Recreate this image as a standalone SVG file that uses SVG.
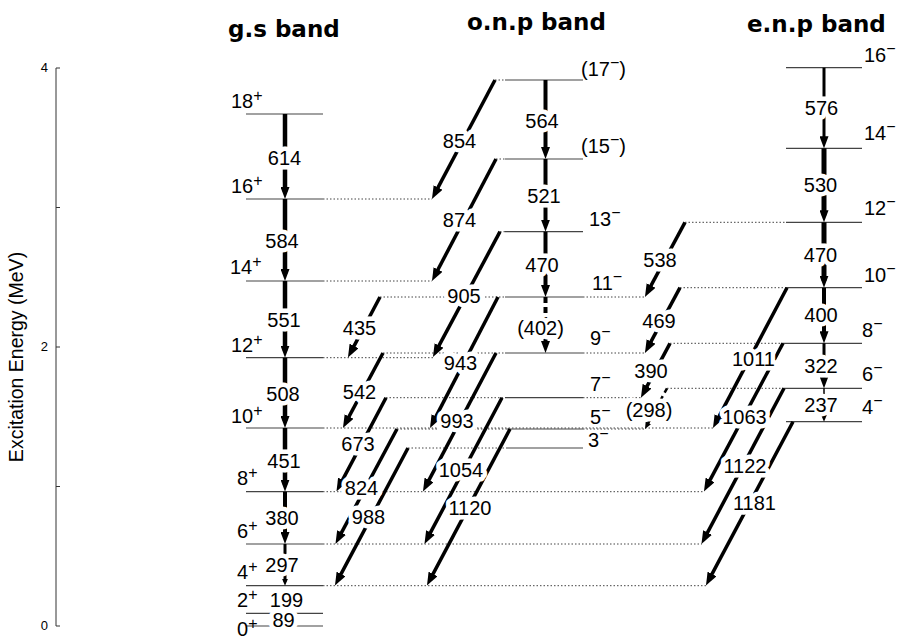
<svg xmlns="http://www.w3.org/2000/svg" width="918" height="640" viewBox="0 0 918 640">
<defs>
<style>
.lv{stroke:#444;stroke-width:1.2;fill:none}
.dt{stroke:#444;stroke-width:1;stroke-dasharray:1.5 2;fill:none}
.ax{stroke:#333;stroke-width:1;fill:none}
.ar{stroke:#000;fill:none;stroke-linecap:butt}
.d{stroke-width:3.5;marker-end:url(#ah)}
.g{font-family:"Liberation Sans",Arial,sans-serif;font-size:20px;fill:#000;stroke:#fff;stroke-width:9;stroke-linejoin:round;paint-order:stroke;text-anchor:middle}
.s{font-family:"Liberation Sans",Arial,sans-serif;font-size:20px;fill:#000}
.t{font-family:"DejaVu Sans",sans-serif;font-weight:bold;font-size:23px;fill:#000}
.tk{font-family:"Liberation Sans",Arial,sans-serif;font-size:13px;fill:#000;text-anchor:end}
</style>
<marker id="ah" viewBox="0 -5 13 10" refX="5" refY="0" markerWidth="13" markerHeight="10" markerUnits="userSpaceOnUse" orient="auto"><path d="M0,-5L13,0L0,5z" fill="#000"/></marker>
<marker id="av" viewBox="0 -4.5 12 9" refX="5" refY="0" markerWidth="12" markerHeight="9" markerUnits="userSpaceOnUse" orient="auto"><path d="M0,-4.5L12,0L0,4.5z" fill="#000"/></marker>
<marker id="as" viewBox="0 -3 7 6" refX="3" refY="0" markerWidth="7" markerHeight="6" markerUnits="userSpaceOnUse" orient="auto"><path d="M0,-3L7,0L0,3z" fill="#000"/></marker>
</defs>
<rect width="918" height="640" fill="#fff"/>

<g id="axis">
<line class="ax" x1="56" y1="68" x2="56" y2="626"/>
<path class="ax" d="M56,68h4M56,207.5h4M56,347h4M56,486.5h4M56,626h4"/>
<text class="tk" x="48" y="72">4</text>
<text class="tk" x="48" y="351">2</text>
<text class="tk" x="48" y="630">0</text>
<text class="s" text-anchor="middle" transform="translate(23,357) rotate(-90)" style="font-size:19.5px">Excitation Energy (MeV)</text>
</g>

<g id="titles">
<text class="t" x="228" y="37">g.s band</text>
<text class="t" x="467" y="30">o.n.p band</text>
<text class="t" x="747" y="32">e.n.p band</text>
</g>

<g id="gs-band">
<g id="gs18"><line class="lv" x1="246" y1="114" x2="323" y2="114"/><text class="s" x="231" y="107.7">18<tspan dy="-7" font-size="16">+</tspan></text></g>
<g id="gs16"><line class="lv" x1="246" y1="199" x2="323" y2="199"/><line class="dt" x1="323" y1="199" x2="432" y2="199"/><text class="s" x="231" y="192.7">16<tspan dy="-7" font-size="16">+</tspan></text></g>
<g id="gs14"><line class="lv" x1="246" y1="281" x2="323" y2="281"/><line class="dt" x1="323" y1="281" x2="432" y2="281"/><text class="s" x="230" y="274">14<tspan dy="-7" font-size="16">+</tspan></text></g>
<g id="gs12"><line class="lv" x1="246" y1="357.7" x2="323" y2="357.7"/><line class="dt" x1="323" y1="357.7" x2="433" y2="357.7"/><text class="s" x="231" y="351.7">12<tspan dy="-7" font-size="16">+</tspan></text></g>
<g id="gs10"><line class="lv" x1="246" y1="428" x2="323" y2="428"/><line class="dt" x1="323" y1="428" x2="713" y2="428"/><text class="s" x="231" y="422.7">10<tspan dy="-7" font-size="16">+</tspan></text></g>
<g id="gs8"><line class="lv" x1="246" y1="491.7" x2="323" y2="491.7"/><line class="dt" x1="323" y1="491.7" x2="704" y2="491.7"/><text class="s" x="237" y="485">8<tspan dy="-7" font-size="16">+</tspan></text></g>
<g id="gs6"><line class="lv" x1="246" y1="544" x2="323" y2="544"/><line class="dt" x1="323" y1="544" x2="702" y2="544"/><text class="s" x="237" y="538.3">6<tspan dy="-7" font-size="16">+</tspan></text></g>
<g id="gs4"><line class="lv" x1="246" y1="585.7" x2="323" y2="585.7"/><line class="dt" x1="323" y1="585.7" x2="706" y2="585.7"/><text class="s" x="237" y="579.3">4<tspan dy="-7" font-size="16">+</tspan></text></g>
<g id="gs2"><line class="lv" x1="246" y1="613.3" x2="323" y2="613.3"/><text class="s" x="237" y="606.7">2<tspan dy="-7" font-size="16">+</tspan></text></g>
<g id="gs0"><line class="lv" x1="246" y1="626" x2="323" y2="626"/><text class="s" x="237" y="636">0<tspan dy="-7" font-size="16">+</tspan></text></g>
</g>

<g id="onp-band">
<g id="onp17"><line class="dt" x1="495" y1="80" x2="505" y2="80"/><line class="lv" x1="505" y1="80" x2="583" y2="80"/><text class="s" x="581" y="76">(17<tspan dy="-8" font-size="16">−</tspan><tspan dy="8">)</tspan></text></g>
<g id="onp15"><line class="dt" x1="496" y1="159" x2="505" y2="159"/><line class="lv" x1="505" y1="159" x2="583" y2="159"/><text class="s" x="581" y="153.3">(15<tspan dy="-8" font-size="16">−</tspan><tspan dy="8">)</tspan></text></g>
<g id="onp13"><line class="dt" x1="500" y1="231.7" x2="505" y2="231.7"/><line class="lv" x1="505" y1="231.7" x2="583" y2="231.7"/><text class="s" x="589" y="225.7">13<tspan dy="-8" font-size="16">−</tspan></text></g>
<g id="onp11"><line class="dt" x1="380" y1="297" x2="505" y2="297"/><line class="lv" x1="505" y1="297" x2="583" y2="297"/><line class="dt" x1="583" y1="297" x2="645" y2="297"/><text class="s" x="592" y="290">11<tspan dy="-8" font-size="16">−</tspan></text></g>
<g id="onp9"><line class="dt" x1="383" y1="353" x2="505" y2="353"/><line class="lv" x1="505" y1="353" x2="583" y2="353"/><line class="dt" x1="583" y1="353" x2="645" y2="353"/><text class="s" x="590" y="345">9<tspan dy="-8" font-size="16">−</tspan></text></g>
<g id="onp7"><line class="dt" x1="386" y1="397.7" x2="505" y2="397.7"/><line class="lv" x1="505" y1="397.7" x2="583" y2="397.7"/><line class="dt" x1="583" y1="397.7" x2="641" y2="397.7"/><text class="s" x="590" y="391">7<tspan dy="-8" font-size="16">−</tspan></text></g>
<g id="onp5"><line class="dt" x1="397" y1="429" x2="507" y2="429"/><line class="lv" x1="507" y1="429" x2="583" y2="429"/><line class="dt" x1="583" y1="429" x2="645" y2="429"/><text class="s" x="590" y="424">5<tspan dy="-8" font-size="16">−</tspan></text></g>
<g id="onp3"><line class="dt" x1="408" y1="448" x2="507" y2="448"/><line class="lv" x1="507" y1="448" x2="583" y2="448"/><text class="s" x="588" y="447.3">3<tspan dy="-8" font-size="16">−</tspan></text></g>
</g>

<g id="enp-band">
<g id="enp16"><line class="lv" x1="786" y1="67.7" x2="862" y2="67.7"/><text class="s" x="864" y="61.7">16<tspan dy="-8" font-size="16">−</tspan></text></g>
<g id="enp14"><line class="lv" x1="786" y1="148.3" x2="862" y2="148.3"/><text class="s" x="864" y="140">14<tspan dy="-8" font-size="16">−</tspan></text></g>
<g id="enp12"><line class="dt" x1="685" y1="222.3" x2="786" y2="222.3"/><line class="lv" x1="786" y1="222.3" x2="862" y2="222.3"/><text class="s" x="864" y="215">12<tspan dy="-8" font-size="16">−</tspan></text></g>
<g id="enp10"><line class="dt" x1="680" y1="287.7" x2="786" y2="287.7"/><line class="lv" x1="786" y1="287.7" x2="862" y2="287.7"/><text class="s" x="864" y="281.7">10<tspan dy="-8" font-size="16">−</tspan></text></g>
<g id="enp8"><line class="dt" x1="670" y1="343.3" x2="783" y2="343.3"/><line class="lv" x1="783" y1="343.3" x2="862" y2="343.3"/><text class="s" x="862" y="336.7">8<tspan dy="-8" font-size="16">−</tspan></text></g>
<g id="enp6"><line class="dt" x1="667" y1="388.3" x2="784" y2="388.3"/><line class="lv" x1="784" y1="388.3" x2="862" y2="388.3"/><text class="s" x="862" y="380.7">6<tspan dy="-8" font-size="16">−</tspan></text></g>
<g id="enp4"><line class="lv" x1="786" y1="421.7" x2="862" y2="421.7"/><text class="s" x="862" y="414">4<tspan dy="-8" font-size="16">−</tspan></text></g>
</g>

<g id="connectors">
<line class="ar" x1="285" y1="114" x2="285" y2="192" stroke-width="4.5" marker-end="url(#av)"/>
<line class="ar" x1="285" y1="199" x2="285" y2="274" stroke-width="4.5" marker-end="url(#av)"/>
<line class="ar" x1="285" y1="281" x2="285" y2="350.7" stroke-width="4.5" marker-end="url(#av)"/>
<line class="ar" x1="285" y1="357.7" x2="285" y2="421" stroke-width="4.5" marker-end="url(#av)"/>
<line class="ar" x1="285" y1="428" x2="285" y2="484.7" stroke-width="4.5" marker-end="url(#av)"/>
<line class="ar" x1="285" y1="491.7" x2="285" y2="537" stroke-width="4" marker-end="url(#av)"/>
<line class="ar" x1="285" y1="544" x2="285" y2="581.7" stroke-width="3" marker-end="url(#as)"/>
<line class="ar" x1="545.5" y1="80" x2="545.5" y2="152" stroke-width="4" marker-end="url(#av)"/>
<line class="ar" x1="545.5" y1="159" x2="545.5" y2="224.7" stroke-width="4" marker-end="url(#av)"/>
<line class="ar" x1="545.5" y1="231.7" x2="545.5" y2="290" stroke-width="4" marker-end="url(#av)"/>
<line class="ar" x1="545.5" y1="297" x2="545.5" y2="346" stroke-width="4" stroke-dasharray="6 4" marker-end="url(#av)"/>
<line class="ar" x1="824" y1="67.7" x2="824" y2="141.3" stroke-width="3" marker-end="url(#av)"/>
<line class="ar" x1="824" y1="148.3" x2="824" y2="215.3" stroke-width="5" marker-end="url(#av)"/>
<line class="ar" x1="824" y1="222.3" x2="824" y2="280.7" stroke-width="5" marker-end="url(#av)"/>
<line class="ar" x1="824" y1="287.7" x2="824" y2="336.3" stroke-width="4" marker-end="url(#av)"/>
<line class="ar" x1="824" y1="343.3" x2="824" y2="381.3" stroke-width="3" marker-end="url(#av)"/>
<line class="ar" x1="824" y1="388.3" x2="824" y2="417.7" stroke-width="1.5" marker-end="url(#as)"/>
<line class="ar d" x1="495" y1="80" x2="435.7" y2="191.9"/>
<line class="ar d" x1="496" y1="159" x2="435.7" y2="273.9"/>
<line class="ar d" x1="500" y1="231.7" x2="436.7" y2="349.9"/>
<line class="ar d" x1="498" y1="297" x2="433.7" y2="420.9"/>
<line class="ar d" x1="496" y1="353" x2="426.7" y2="484.4"/>
<line class="ar d" x1="502" y1="397.7" x2="428.2" y2="536.9"/>
<line class="ar d" x1="510" y1="429" x2="430.7" y2="578.4"/>
<line class="ar d" x1="380" y1="297" x2="351.7" y2="350.4"/>
<line class="ar d" x1="383" y1="353" x2="346.7" y2="420.9"/>
<line class="ar d" x1="386" y1="397.7" x2="340.2" y2="484.4"/>
<line class="ar d" x1="397" y1="429" x2="339.2" y2="536.9"/>
<line class="ar d" x1="408" y1="448" x2="338.7" y2="578.4"/>
<line class="ar d" x1="685" y1="222.3" x2="648.7" y2="289.9" stroke-width="4"/>
<line class="ar d" x1="680" y1="287.7" x2="648.7" y2="345.9" stroke-width="4"/>
<line class="ar d" x1="670" y1="343.3" x2="644.7" y2="390.6"/>
<line class="ar" x1="667" y1="388.3" x2="646.9" y2="425.5" stroke-width="2.5" stroke-dasharray="5 4" marker-end="url(#as)"/>
<line class="ar d" x1="787" y1="287.7" x2="716.7" y2="420.9" stroke-width="3"/>
<line class="ar d" x1="783" y1="343.3" x2="707.7" y2="484.4" stroke-width="3"/>
<line class="ar d" x1="784" y1="388.3" x2="705.2" y2="536.9"/>
<line class="ar d" x1="793" y1="421.7" x2="709.7" y2="578.4"/>
</g>

<g id="gamma-labels">
<text class="g" x="284.5" y="165">614</text>
<text class="g" x="282" y="248">584</text>
<text class="g" x="284" y="326.7">551</text>
<text class="g" x="283" y="400.7">508</text>
<text class="g" x="284" y="467.7">451</text>
<text class="g" x="282" y="525">380</text>
<text class="g" x="282" y="572.3">297</text>
<text class="g" x="286.5" y="606.7">199</text>
<text class="g" x="283.5" y="627.3">89</text>
<text class="g" x="359.5" y="335">435</text>
<text class="g" x="359.5" y="399">542</text>
<text class="g" x="358" y="451">673</text>
<text class="g" x="361.5" y="495">824</text>
<text class="g" x="368.5" y="524">988</text>
<text class="g" x="542" y="128.3">564</text>
<text class="g" x="544" y="203.3">521</text>
<text class="g" x="542" y="271.7">470</text>
<text class="g" x="540.5" y="335">(402)</text>
<text class="g" x="459.5" y="148.3">854</text>
<text class="g" x="459.5" y="226.7">874</text>
<text class="g" x="464" y="302.7">905</text>
<text class="g" x="460.5" y="370">943</text>
<text class="g" x="457" y="428.3">993</text>
<text class="g" x="461" y="476.7">1054</text>
<text class="g" x="470" y="515">1120</text>
<text class="g" x="821.5" y="115">576</text>
<text class="g" x="820.5" y="192.3">530</text>
<text class="g" x="820.5" y="262.3">470</text>
<text class="g" x="821" y="322.3">400</text>
<text class="g" x="821" y="373.3">322</text>
<text class="g" x="821" y="411.7">237</text>
<text class="g" x="660" y="266.7">538</text>
<text class="g" x="659" y="327.7">469</text>
<text class="g" x="651" y="377.7">390</text>
<text class="g" x="649" y="416.7">(298)</text>
<text class="g" x="753.5" y="366">1011</text>
<text class="g" x="744.5" y="424">1063</text>
<text class="g" x="745" y="473.3">1122</text>
<text class="g" x="754.5" y="510">1181</text>
</g>
</svg>
